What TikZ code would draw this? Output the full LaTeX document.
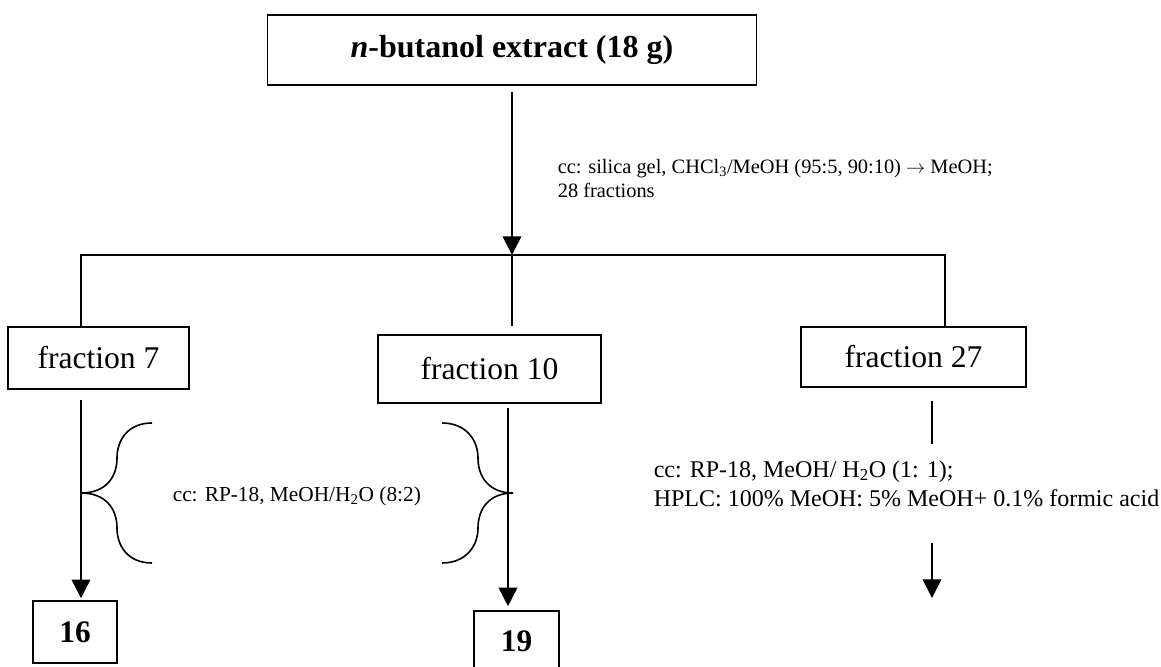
\documentclass[tikz,border=0pt]{standalone}
\usepackage{fontspec}
\setmainfont{Liberation Serif}
\usetikzlibrary{arrows.meta}

\tikzset{
  box/.style={draw,inner sep=0pt,font=\fontsize{23.7}{28}\selectfont},
  numbox/.style={draw,inner sep=0pt,font=\fontsize{23.5}{28}\selectfont\bfseries},
  note/.style={inner sep=0pt,align=left},
}

\begin{document}
\begin{tikzpicture}[x=0.75pt,y=-0.75pt,line width=1.2pt,>={Triangle[length=14pt,width=14pt]}]
\useasboundingbox (0,0) rectangle (1161,667);

% boxes
\node[box,minimum width=366.75pt,minimum height=52.5pt,font=\fontsize{24}{28}\selectfont\bfseries]
  (extract) at (512,50) {\textit{n}-butanol extract (18 g)};
\node[box,minimum width=135.75pt,minimum height=46.5pt] (f7) at (98.5,358) {fraction 7};
\node[box,minimum width=167.25pt,minimum height=51pt] (f10) at (489.5,369) {fraction 10};
\node[box,minimum width=168.75pt,minimum height=45pt] (f27) at (913.5,357) {fraction 27};
\node[numbox,minimum width=63pt,minimum height=46.5pt] (c16) at (75,632) {16};
\node[numbox,minimum width=63.75pt,minimum height=45pt] (c19) at (516.5,641) {19};

% split bar
\coordinate (split) at (512,255);
\coordinate (barL) at (81,255);
\coordinate (barR) at (945,255);
\draw[->,shorten <=4.5pt] (extract.south) -- (split);
\draw (f7.north -| barL) -- (barL) -- (barR) -- (f27.north -| barR);
\draw[shorten >=6pt] (split) -- (split |- f10.north);

% columns
\coordinate (d10) at (508,0);
\coordinate (d27) at (932,0);
\draw[->,shorten <=7.5pt,shorten >=1.5pt] (f7.south -| barL) -- (c16.north -| barL);
\draw[->,shorten <=3pt,shorten >=3pt] (f10.south -| d10) -- (c19.north -| d10);
\coordinate (d27a) at (932,444);
\coordinate (d27b) at (932,543);
\coordinate (d27c) at (932,598);
\draw[shorten <=9.75pt] (f27.south -| d27) -- (d27a);
\draw[->] (d27b) -- (d27c);

% braces
\draw (152,423) .. controls (128,423) and (117,440) .. (117,458)
  .. controls (117,478) and (105,493) .. (81,493)
  .. controls (105,493) and (117,508) .. (117,528)
  .. controls (117,546) and (128,563) .. (152,563);
\draw (442,423) .. controls (466,423) and (478,440) .. (478,458)
  .. controls (478,478) and (490,493) .. (513,493)
  .. controls (490,493) and (478,508) .. (478,528)
  .. controls (478,546) and (466,563) .. (442,563);

% conditions
\node[note,anchor=north west,font=\fontsize{15.3}{18}\selectfont]
  (silica) at (557,159) {cc: silica gel, CHCl\textsubscript{3}/MeOH (95:5, 90:10) $\rightarrow$ MeOH;\\28 fractions};
\node[note,anchor=base west,font=\fontsize{16}{19}\selectfont]
  (rp1) at (172,501) {cc: RP-18, MeOH/H\textsubscript{2}O (8:2)};
\node[note,anchor=north west,font=\fontsize{18}{21.75}\selectfont]
  (rp2) at (653,460) {cc: RP-18, MeOH/ H\textsubscript{2}O (1: 1);\\HPLC: 100\% MeOH: 5\% MeOH+ 0.1\% formic acid};
\end{tikzpicture}
\end{document}
